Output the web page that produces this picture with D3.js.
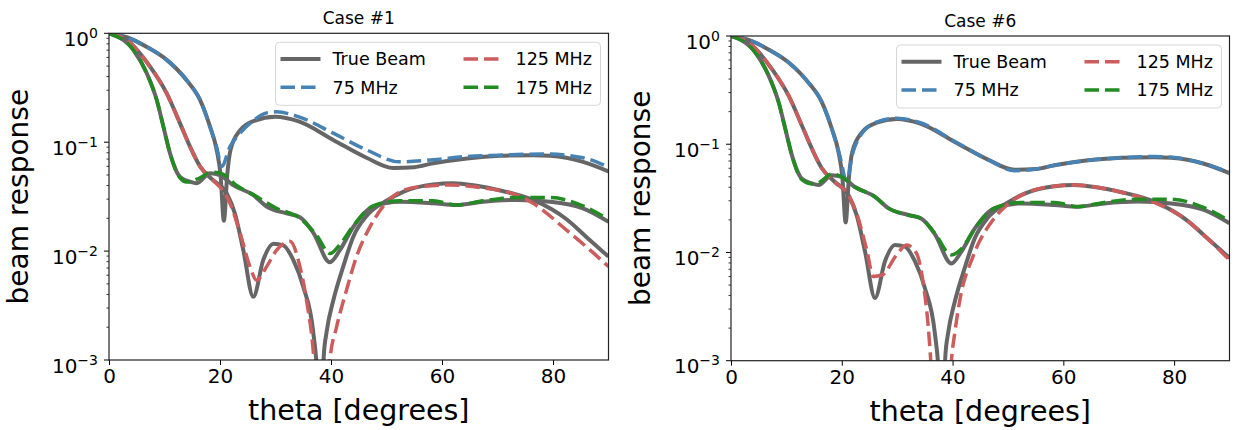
<!DOCTYPE html>
<html>
<head>
<meta charset="utf-8">
<script src="https://cdn.jsdelivr.net/npm/d3@7"></script>
<style>
  body { margin: 0; background: #fff; }
  svg text { font-family: "DejaVu Sans", sans-serif; fill: #000; }
</style>
</head>
<body>
<svg id="chart" width="1236" height="430"></svg>
<script>
// beam response vs theta

// true beams (same in both panels)
const theta75True = [0, 3.2, 7, 10.4, 14, 16.4, 18.2, 19.4, 20.1, 20.7, 21.3, 21.9, 23.6, 26.3, 29.9, 34.2, 40.4, 46.4, 51.2, 55, 58.4, 64.5, 70.5, 76.4, 79.5, 85.4, 90];
const true75 = [1.0, 0.92, 0.74, 0.57, 0.37, 0.245, 0.139, 0.085, 0.05, 0.019, 0.05, 0.085, 0.128, 0.158, 0.171, 0.155, 0.105, 0.072, 0.058, 0.059, 0.064, 0.071, 0.075, 0.076, 0.075, 0.066, 0.054];

const theta125True = [0, 3.2, 7.4, 10.4, 12.8, 14.6, 16.4, 18.7, 21.2, 22.7, 24.2, 26, 27.8, 29.6, 31.4, 33.2, 35, 36.8, 37.6, 38.1, 38.7, 39.2, 40.4, 42.2, 44, 46.4, 50, 53, 58.4, 62, 66, 70.5, 76.4, 82.5, 86, 90];
const true125 = [1.0, 0.867, 0.494, 0.281, 0.149, 0.091, 0.06, 0.045, 0.034, 0.022, 0.0102, 0.0038, 0.0083, 0.0117, 0.0113, 0.0083, 0.0047, 0.0018, 0.0006, 0.0001, 0.0011, 0.0018, 0.0035, 0.0072, 0.0135, 0.021, 0.029, 0.035, 0.041, 0.042, 0.040, 0.036, 0.0295, 0.0195, 0.0135, 0.0089];

const theta175True = [0, 4.4, 6.8, 8.6, 9.8, 11, 12.8, 14.6, 15.8, 18.2, 20, 22.3, 26, 28.4, 32, 34.4, 36.8, 39.8, 41.6, 44, 47.6, 52.4, 58.4, 62.6, 67.4, 73.5, 79.5, 85.4, 90];
const true175 = [1.0, 0.703, 0.43, 0.244, 0.139, 0.079, 0.048, 0.0434, 0.042, 0.0518, 0.05, 0.0405, 0.0327, 0.0257, 0.0222, 0.0205, 0.0148, 0.0079, 0.0102, 0.0166, 0.0257, 0.0284, 0.0275, 0.0265, 0.0284, 0.0295, 0.0284, 0.0247, 0.0186];

// Case #1 fits
const theta75Case1 = [0, 3.2, 7, 10.4, 14, 16.4, 18.2, 19.4, 20.3, 21.8, 23.6, 26, 28.4, 30.2, 34.2, 40.4, 46.4, 52.4, 58.4, 64.5, 70.5, 78.2, 85.4, 90];
const fit75Case1 = [1.0, 0.92, 0.74, 0.57, 0.37, 0.245, 0.139, 0.09, 0.06, 0.091, 0.121, 0.158, 0.186, 0.19, 0.171, 0.121, 0.085, 0.066, 0.069, 0.074, 0.076, 0.078, 0.072, 0.059];

const theta125Case1 = [0, 3.2, 7.4, 10.4, 12.8, 14.6, 16.4, 18.7, 20.5, 21.8, 23.6, 25.4, 26.6, 28.4, 30.2, 32.6, 34.4, 35.6, 36.8, 37.6, 38.8, 39.8, 41, 42.8, 44.6, 47, 49.4, 52.4, 56, 61.4, 67.4, 73.5, 76.4, 82.5, 86.7, 90];
const fit125Case1 = [1.0, 0.867, 0.494, 0.281, 0.149, 0.091, 0.06, 0.045, 0.036, 0.0275, 0.0148, 0.0072, 0.0054, 0.0072, 0.0102, 0.0123, 0.0072, 0.0035, 0.0012, 0.0003, 0.0001, 0.001, 0.002, 0.0044, 0.0089, 0.0166, 0.0257, 0.035, 0.039, 0.0405, 0.038, 0.0327, 0.0275, 0.0155, 0.0102, 0.0072];

const theta175Case1 = [0, 4.4, 6.8, 8.6, 9.8, 11, 12.8, 14, 16, 18.5, 20.5, 23, 26, 30, 34.4, 37.4, 39.8, 41.6, 44, 47.6, 52.4, 58.4, 62.6, 67.4, 73.5, 79.5, 85.4, 90];
const fit175Case1 = [1.0, 0.703, 0.43, 0.244, 0.139, 0.079, 0.047, 0.043, 0.046, 0.053, 0.051, 0.04, 0.033, 0.025, 0.02, 0.014, 0.0095, 0.0115, 0.017, 0.026, 0.029, 0.029, 0.0265, 0.029, 0.031, 0.031, 0.026, 0.0195];

// Case #6 fits
const theta75Case6 = [0, 3.2, 7, 10.4, 14, 16.4, 18.2, 19.6, 20.9, 21.9, 23.6, 26.3, 29.9, 34.2, 40.4, 46.4, 51.2, 55, 58.4, 64.5, 70.5, 76.4, 79.5, 85.4, 90];
const fit75Case6 = [1.0, 0.92, 0.74, 0.57, 0.37, 0.245, 0.139, 0.08, 0.046, 0.08, 0.125, 0.16, 0.174, 0.158, 0.106, 0.072, 0.057, 0.059, 0.064, 0.071, 0.075, 0.077, 0.076, 0.066, 0.055];

const theta125Case6 = [0, 3.2, 7.4, 10.4, 12.8, 14.6, 16.4, 18.7, 21.2, 22.8, 24.5, 25.7, 27.3, 29.9, 31.7, 33.5, 34.7, 35.6, 36.2, 37.5, 38.9, 39.8, 40.4, 41.3, 43.7, 47.3, 50, 53, 58.4, 62, 66, 70.5, 76.4, 82.5, 86, 90];
const fit125Case6 = [1.0, 0.867, 0.494, 0.281, 0.149, 0.091, 0.06, 0.045, 0.034, 0.022, 0.0106, 0.006, 0.0062, 0.0095, 0.0117, 0.0098, 0.0052, 0.0021, 0.0008, 0.0001, 0.0001, 0.001, 0.0018, 0.0036, 0.0092, 0.02, 0.028, 0.035, 0.041, 0.042, 0.040, 0.036, 0.029, 0.0195, 0.0135, 0.0085];

const theta175Case6 = [0, 4.4, 6.8, 8.6, 9.8, 11, 12.8, 14.6, 15.8, 18.2, 20, 22.3, 26, 28.4, 32, 34.4, 36.8, 39.8, 41.6, 44, 47.6, 52.4, 58.4, 62.6, 67.4, 73.5, 79.5, 85.4, 90];
const fit175Case6 = [1.0, 0.703, 0.43, 0.244, 0.139, 0.079, 0.047, 0.043, 0.044, 0.053, 0.05, 0.0405, 0.0327, 0.0257, 0.0222, 0.0205, 0.015, 0.0095, 0.0108, 0.0166, 0.0257, 0.029, 0.029, 0.0265, 0.029, 0.031, 0.031, 0.026, 0.0195];

const xTicks = [0, 20, 40, 60, 80];
const yTicks = [1e-3, 1e-2, 1e-1, 1];
const yTickExp = ["\u22123", "\u22122", "\u22121", "0"];
const legendLabels = ["True Beam", "75 MHz", "125 MHz", "175 MHz"];

const grayColor = "#666666";
const fitColors = ["steelblue", "indianred", "forestgreen"];
const dashes = "14.5,6";

const zip = (xs, ys) => xs.map((t, i) => ({ t: t, v: ys[i] }));

const svg = d3.select("#chart");

function drawPanel(p) {
  const x = d3.scaleLinear().domain([0, 90]).range([p.left, p.right]);
  const y = d3.scaleLog().domain([1e-3, 1]).range([p.bottom, p.top]);
  const g = svg.append("g");

  // clip lines to axes box
  g.append("clipPath").attr("id", p.id + "-clip")
    .append("rect")
    .attr("x", p.left).attr("y", p.top)
    .attr("width", p.right - p.left).attr("height", p.bottom - p.top);

  const line = d3.line()
    .x(d => x(d.t))
    .y(d => y(d.v))
    .curve(d3.curveMonotoneX);

  const lines = g.append("g").attr("clip-path", `url(#${p.id}-clip)`);

  // true beams first
  [zip(theta75True, true75), zip(theta125True, true125), zip(theta175True, true175)].forEach(s => {
    lines.append("path")
      .datum(s)
      .attr("d", line)
      .attr("fill", "none")
      .attr("stroke", grayColor)
      .attr("stroke-width", 4);
  });

  // fitted beams
  p.fits.forEach((s, i) => {
    lines.append("path")
      .datum(s)
      .attr("d", line)
      .attr("fill", "none")
      .attr("stroke", fitColors[i])
      .attr("stroke-width", 3.5)
      .attr("stroke-dasharray", dashes);
  });

  // x axis
  const xAxis = g.append("g")
    .attr("transform", `translate(0,${p.bottom})`)
    .call(d3.axisBottom(x).tickValues(xTicks).tickSize(5).tickPadding(4).tickFormat(d3.format("d")));
  xAxis.select(".domain").remove();
  xAxis.selectAll(".tick line").attr("stroke", "#000").attr("stroke-width", 1);
  xAxis.selectAll(".tick text")
    .attr("font-size", 20)
    .attr("font-family", "DejaVu Sans")
    .attr("fill", "#222");

  // y axis: minor ticks then major ticks with 10^n labels
  const minor = [];
  [-3, -2, -1].forEach(e => { for (let k = 2; k <= 9; k++) minor.push(k * Math.pow(10, e)); });
  g.append("g").selectAll("line").data(minor).join("line")
    .attr("x1", p.left - 2.5).attr("x2", p.left)
    .attr("y1", d => y(d)).attr("y2", d => y(d))
    .attr("stroke", "#000").attr("stroke-width", 0.8);

  const yt = g.append("g").selectAll("g").data(yTicks).join("g")
    .attr("transform", d => `translate(0,${y(d)})`);
  yt.append("line")
    .attr("x1", p.left - 5).attr("x2", p.left)
    .attr("stroke", "#000").attr("stroke-width", 1);
  const lbl = yt.append("text")
    .attr("x", p.left - 11)
    .attr("y", 12.5)
    .attr("text-anchor", "end")
    .attr("font-size", 20)
    .attr("fill", "#222");
  lbl.append("tspan").text("10");
  lbl.append("tspan")
    .attr("dy", -8)
    .attr("font-size", 14)
    .text((d, i) => yTickExp[i]);

  // frame
  g.append("rect")
    .attr("x", p.left).attr("y", p.top)
    .attr("width", p.right - p.left).attr("height", p.bottom - p.top)
    .attr("fill", "none").attr("stroke", "#222").attr("stroke-width", 1.2);

  // title and labels
  g.append("text")
    .attr("x", (p.left + p.right) / 2)
    .attr("y", p.top - 9)
    .attr("text-anchor", "middle")
    .attr("font-size", 17)
    .attr("fill", "#222")
    .text(p.title);

  g.append("text")
    .attr("x", (p.left + p.right) / 2)
    .attr("y", p.bottom + 60)
    .attr("text-anchor", "middle")
    .attr("font-size", 28.5)
    .attr("fill", "#222")
    .text("theta [degrees]");

  g.append("text")
    .attr("transform", `translate(${p.left - 81},${(p.top + p.bottom) / 2}) rotate(-90)`)
    .attr("text-anchor", "middle")
    .attr("font-size", 28)
    .attr("fill", "#222")
    .text("beam response");

  // legend, two columns
  const bw = 325, bh = 63;
  const bx = p.right - 8 - bw, by = p.top + 9;
  const leg = g.append("g");
  leg.append("rect")
    .attr("x", bx).attr("y", by).attr("width", bw).attr("height", bh)
    .attr("rx", 4)
    .attr("fill", "#fff").attr("fill-opacity", 0.8)
    .attr("stroke", "#d6d6d6").attr("stroke-width", 1);

  const entries = [
    { label: legendLabels[0], color: grayColor, dash: null, col: 0, row: 0 },
    { label: legendLabels[1], color: fitColors[0], dash: dashes, col: 0, row: 1 },
    { label: legendLabels[2], color: fitColors[1], dash: dashes, col: 1, row: 0 },
    { label: legendLabels[3], color: fitColors[2], dash: dashes, col: 1, row: 1 }
  ];
  const colX = [5, 188];
  const rowY = [16.8, 45];
  entries.forEach(e => {
    const hx = bx + colX[e.col], hy = by + rowY[e.row];
    leg.append("line")
      .attr("x1", hx).attr("x2", hx + 40)
      .attr("y1", hy).attr("y2", hy)
      .attr("stroke", e.color)
      .attr("stroke-width", e.dash ? 3.5 : 4)
      .attr("stroke-dasharray", e.dash);
    leg.append("text")
      .attr("x", hx + 52)
      .attr("y", hy + 6.3)
      .attr("font-size", 17.5)
      .attr("fill", "#222")
      .text(e.label);
  });
}

drawPanel({
  id: "case1", title: "Case #1",
  left: 109, right: 608.5, top: 33.3, bottom: 360,
  fits: [zip(theta75Case1, fit75Case1), zip(theta125Case1, fit125Case1), zip(theta175Case1, fit175Case1)]
});

drawPanel({
  id: "case6", title: "Case #6",
  left: 731, right: 1229.5, top: 36, bottom: 360.7,
  fits: [zip(theta75Case6, fit75Case6), zip(theta125Case6, fit125Case6), zip(theta175Case6, fit175Case6)]
});
</script>
</body>
</html>
